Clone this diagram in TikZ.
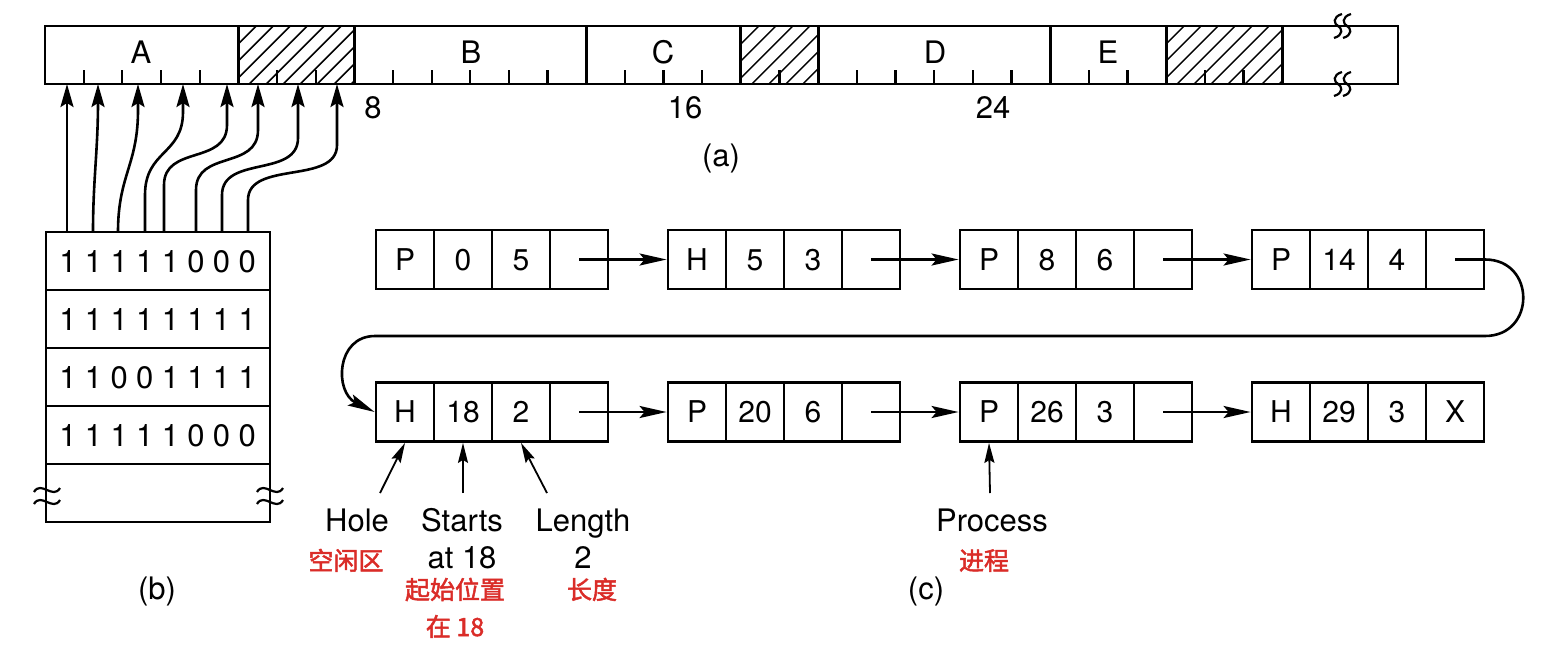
\documentclass[tikz,border=0pt]{standalone}
\usepackage{fontspec}
\setmainfont{TeX Gyre Heros}
\newfontfamily\cjk{Noto Sans CJK SC}[FakeBold=2]
\usetikzlibrary{arrows.meta}
\definecolor{cnred}{RGB}{218,44,40}
\newcommand\mylistbox[7]{%
  \node[cell] (#1-1) at (#2+29,#3) {#4};
  \node[cell] (#1-2) at (#2+87,#3) {#5};
  \node[cell] (#1-3) at (#2+145,#3) {#6};
  \node[cell] (#1-4) at (#2+203,#3) {#7};
}
\newcommand\myhatch[2]{%
  \begin{scope}
    \clip (#1,26) rectangle (#2,84);
    \foreach \k in {0,...,16} \draw[hatchline] ({#1-58+\k*17},85) -- ++(60,-60);
  \end{scope}
}
\newcommand\mybreak[2]{% vertical S at x=#1, centre y=#2
  \draw[brk] (#1+4,#2-12) .. controls (#1-6,#2-9) and (#1-4,#2-2) .. (#1,#2)
     .. controls (#1+4,#2+2) and (#1+6,#2+9) .. (#1-4,#2+12);
}
\newcommand\mytilde[2]{%
  \draw[brk] (#1-13,#2+2) .. controls (#1-6,#2-10) and (#1+6,#2+10) .. (#1+13,#2-2);
}
\begin{document}
\begin{tikzpicture}[x=1pt,y=-1pt,
  lbl/.style={font=\fontsize{31}{36}\selectfont, inner sep=0pt, text height=22.3pt, text depth=0pt},
  cn/.style={font=\cjk\fontsize{25}{30}\selectfont, text=cnred, inner sep=0pt, text height=20pt, text depth=2pt},
  cell/.style={draw, line width=2.8pt, minimum width=58pt, minimum height=59pt, inner sep=0pt, text height=21.6pt, text depth=0pt, font=\fontsize{30}{34}\selectfont},
  row/.style={draw, line width=2.8pt, minimum width=224pt, minimum height=58pt, inner sep=0pt},
  digit/.style={font=\fontsize{31}{34}\selectfont, inner sep=0pt, text height=22.3pt, text depth=0pt},
  barline/.style={line width=2.8pt},
  tickline/.style={line width=2.2pt},
  hatchline/.style={line width=1.5pt},
  brk/.style={line width=2.2pt},
  link/.style={line width=2.6pt, -{Stealth[length=27pt,width=12pt,inset=5pt]}},
  ptr/.style={line width=2.6pt, -{Stealth[length=23pt,width=13pt,inset=4pt]}},
  note/.style={line width=1.8pt, -{Stealth[length=20pt,width=10pt,inset=3pt]}}
]
\useasboundingbox (0,0) rectangle (1554,656);
\def\u{38.66}
% ---------- (a) memory bar ----------
\myhatch{238.3}{354.3}
\myhatch{740.9}{818.2}
\myhatch{1166.1}{1282.1}
\draw[barline] (45,26) rectangle (1398,84);
\foreach \i in {5,8,14,18,20,26,29,32} \draw[barline] ({45+\i*\u},26) -- ({45+\i*\u},84);
\foreach \i in {1,2,3,4,6,7,9,10,11,12,13,15,16,17,19,21,22,23,24,25,27,28,30,31}
  \draw[tickline] ({45+\i*\u},84) -- ++(0,-14);
\mybreak{1338}{26}
\mybreak{1347}{26}
\mybreak{1338}{84}
\mybreak{1347}{84}
\node[lbl] (lA) at (141,52) {A};
\node[lbl] (lB) at (471,52) {B};
\node[lbl] (lC) at (663,52) {C};
\node[lbl] (lD) at (935,52) {D};
\node[lbl] (lE) at (1108,52) {E};
\node[lbl] (n8) at (373,107) {8};
\node[lbl] (n16) at (685,107) {16};
\node[lbl] (n24) at (993,107) {24};
\node[lbl] (capa) at (721,155) {(a)};
% ---------- (b) bitmap ----------
\node[row] (bm1) at (158,261) {};
\node[row] (bm2) at (158,319) {};
\node[row] (bm3) at (158,377) {};
\node[row] (bm4) at (158,435) {};
\node[row] (bm5) at (158,493) {};
\foreach \r/\bits in {261/{1,1,1,1,1,0,0,0},319/{1,1,1,1,1,1,1,1},377/{1,1,0,0,1,1,1,1},435/{1,1,1,1,1,0,0,0}}{
  \foreach \b [count=\j from 0] in \bits
    \node[digit] at ({68+\j*25.6},\r) {\b};
}
\mytilde{47}{490}
\mytilde{47}{502}
\mytilde{270}{490}
\mytilde{270}{502}
\node[lbl] (capb) at (157,588) {(b)};
% arrows bitmap -> bar
\foreach \n/\x in {1/67,2/93,3/118,4/145,5/164,6/196,7/222,8/248}
  \coordinate (s\n) at (\x,232);
\foreach \n/\x in {1/67,2/98,3/138,4/183,5/227,6/258,7/298,8/337}
  \coordinate (e\n) at (\x,84);
\draw[ptr] (s1) -- (e1);
\draw[ptr] (s2) .. controls (93,180) and (98,150) .. (e2);
\draw[ptr] (s3) .. controls (118,175) and (138,165) .. (138,110) -- (e3);
\draw[ptr] (s4) -- (145,195) .. controls (145,150) and (183,155) .. (183,112) -- (e4);
\draw[ptr] (s5) -- (164,185) .. controls (164,145) and (227,165) .. (227,125) -- (e5);
\draw[ptr] (s6) -- (196,190) .. controls (196,150) and (258,170) .. (258,130) -- (e6);
\draw[ptr] (s7) -- (222,195) .. controls (222,155) and (298,178) .. (298,138) -- (e7);
\draw[ptr] (s8) -- (248,200) .. controls (248,160) and (337,185) .. (337,145) -- (e8);
% ---------- (c) linked list ----------
\mylistbox{a1}{376}{259.5}{P}{0}{5}{}
\mylistbox{a2}{668}{259.5}{H}{5}{3}{}
\mylistbox{a3}{960}{259.5}{P}{8}{6}{}
\mylistbox{a4}{1252}{259.5}{P}{14}{4}{}
\mylistbox{b1}{376}{412}{H}{18}{2}{}
\mylistbox{b2}{668}{412}{P}{20}{6}{}
\mylistbox{b3}{960}{412}{P}{26}{3}{}
\mylistbox{b4}{1252}{412}{H}{29}{3}{X}
\draw[link] (a1-4.center) -- (a2-1.west);
\draw[link] (a2-4.center) -- (a3-1.west);
\draw[link] (a3-4.center) -- (a4-1.west);
\draw[link] (b1-4.center) -- (b2-1.west);
\draw[link] (b2-4.center) -- (b3-1.west);
\draw[link] (b3-4.center) -- (b4-1.west);
\draw[link] (a4-4.center) -- (1485,259.5) .. controls (1536,259.5) and (1536,336) .. (1485,336)
  -- (375,336) .. controls (336,336) and (334,392) .. (b1-1.west);
% labels
\node[lbl] (hole) at (357,520) {Hole};
\node[lbl] (starts) at (462,520) {Starts};
\node[lbl] (at18) at (462,557) {at 18};
\node[lbl] (len) at (583,520) {Length};
\node[lbl] (len2) at (583,557) {2};
\node[lbl] (proc) at (992,520) {Process};
\node[cn] (cnhole) at (346,561) {空闲区};
\node[cn] (cnstart) at (455,590) {起始位置};
\node[cn] (cnat) at (455,627) {在 18};
\node[cn] (cnlen) at (592,590) {长度};
\node[cn] (cnproc) at (984,561) {进程};
\node[lbl] (capc) at (926,588) {(c)};
\coordinate (hs) at (380,493);
\coordinate (ss) at (463,493);
\coordinate (ls) at (547,493);
\coordinate (ps) at (990,493);
\draw[note] (hs) -- (b1-1.south);
\draw[note] (ss) -- (b1-2.south);
\draw[note] (ls) -- (b1-3.south);
\draw[note] (ps) -- (b3-1.south);
\end{tikzpicture}
\end{document}
